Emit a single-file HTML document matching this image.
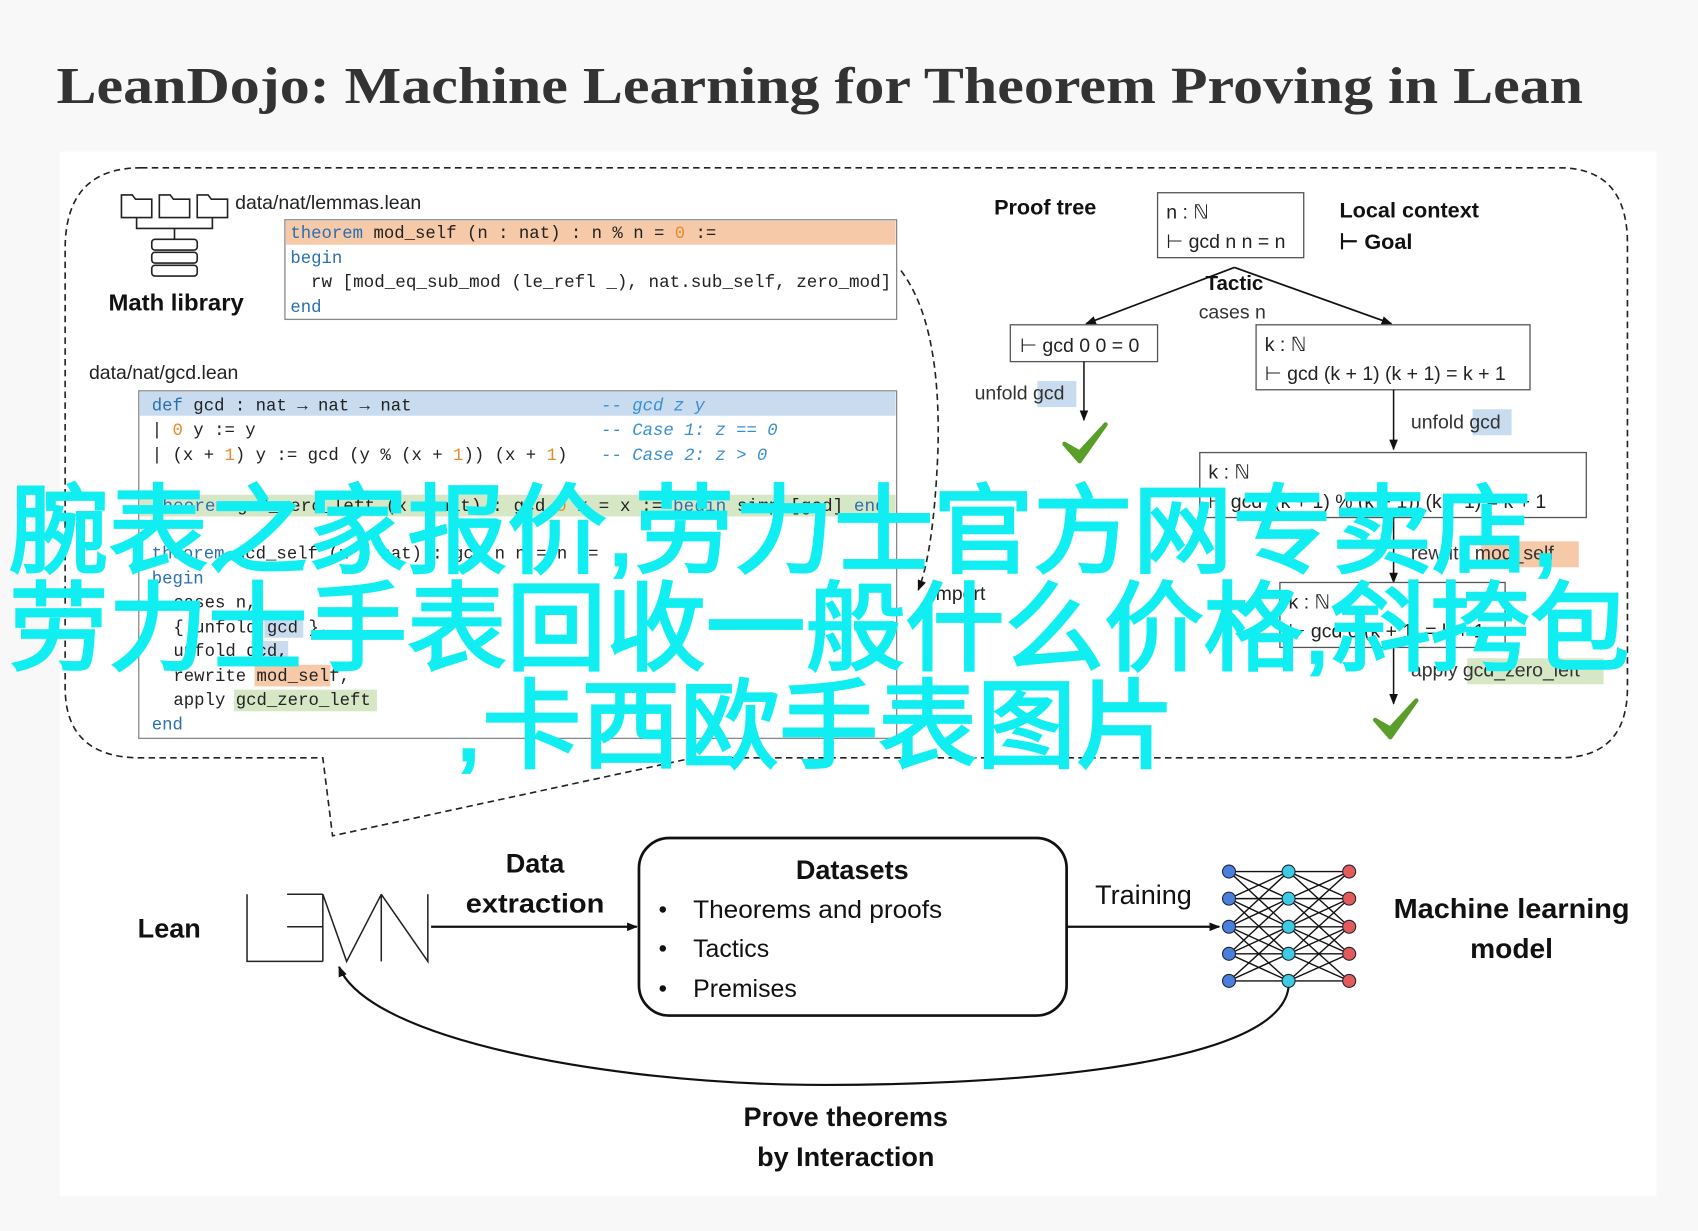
<!DOCTYPE html>
<html><head><meta charset="utf-8"><style>
html,body{margin:0;padding:0;background:#f8f8f8;}
svg{display:block;}
.m{font-family:"Liberation Mono",monospace;font-size:16px;fill:#222;}
.s{font-family:"Liberation Sans",sans-serif;}
.b{font-family:"Liberation Sans",sans-serif;font-weight:bold;fill:#111;}
.kw{fill:#2a6fb0;}
.num{fill:#e88a2a;}
.cm{fill:#3a8fd0;font-style:italic;}
</style></head><body>
<svg width="1698" height="1231" viewBox="0 0 1568 1137" xmlns="http://www.w3.org/2000/svg">
<defs>
<marker id="ar" markerWidth="10" markerHeight="10" refX="9" refY="5" orient="auto" markerUnits="userSpaceOnUse"><path d="M0,1 L10,5 L0,9 z" fill="#111"/></marker>
</defs>
<rect width="1568" height="1137" fill="#f8f8f8"/>
<rect x="55" y="140" width="1475" height="965" fill="#fff"/>
<text x="52" y="95" font-family="'Liberation Serif',serif" font-weight="bold" font-size="48" fill="#333" textLength="1410" lengthAdjust="spacingAndGlyphs">LeanDojo: Machine Learning for Theorem Proving in Lean</text>

<!-- dashed region -->
<path d="M130,155 L1440,155 Q1503,155 1503,225 L1503,635 Q1503,700 1440,700 L640,700 L307,772 L298,700 L130,700 Q60,700 60,635 L60,230 Q60,155 130,155 Z" fill="none" stroke="#222" stroke-width="1.5" stroke-dasharray="6,4"/>
<path d="M832,250 Q870,300 866,420 Q862,510 848,545" fill="none" stroke="#222" stroke-width="1.5" stroke-dasharray="6,4" marker-end="url(#ar)"/>
<text x="860" y="554" class="s" font-size="18" fill="#222">import</text>

<!-- math library icon -->
<g fill="none" stroke="#222" stroke-width="1.5">
<path d="M112,180 h10 l3,4 h15 v17 h-28z"/><path d="M147,180 h10 l3,4 h15 v17 h-28z"/><path d="M182,180 h10 l3,4 h15 v17 h-28z"/>
<path d="M126,201 v10 h70 v-10 M161,211 v10"/>
<rect x="140" y="221" width="42" height="10" rx="3"/><rect x="140" y="233" width="42" height="10" rx="3"/><rect x="140" y="245" width="42" height="10" rx="3"/>
</g>
<text x="100" y="287" class="b" font-size="21" textLength="125" lengthAdjust="spacingAndGlyphs">Math library</text>
<text x="217" y="193" class="s" font-size="18" fill="#222">data/nat/lemmas.lean</text>
<text x="82" y="350" class="s" font-size="18" fill="#222">data/nat/gcd.lean</text>

<!-- lemmas box -->
<rect x="263" y="203" width="565" height="92" fill="#fff" stroke="#888" stroke-width="1.2"/>
<rect x="264" y="204" width="563" height="22" fill="#f6c9a8"/>
<text x="268" y="220" class="m"><tspan class="kw">theorem</tspan> mod_self (n : nat) : n % n = <tspan class="num">0</tspan> :=</text>
<text x="268" y="243" class="m kw">begin</text>
<text x="287" y="265" class="m" textLength="536" lengthAdjust="spacingAndGlyphs">rw [mod_eq_sub_mod (le_refl _), nat.sub_self, zero_mod]</text>
<text x="268" y="288" class="m kw">end</text>

<!-- gcd box -->
<rect x="128" y="361" width="700" height="321" fill="#fff" stroke="#888" stroke-width="1.2"/>
<rect x="129" y="362" width="698" height="22" fill="#c8dbef"/>
<rect x="129" y="457" width="698" height="20" fill="#d6e7c6"/>
<text x="140" y="379" class="m"><tspan class="kw">def</tspan> gcd : nat → nat → nat</text>
<text x="555" y="379" class="m cm">-- gcd z y</text>
<text x="140" y="402" class="m">| <tspan class="num">0</tspan>       y := y</text>
<text x="555" y="402" class="m cm">-- Case 1: z == 0</text>
<text x="140" y="425" class="m">| (x + <tspan class="num">1</tspan>) y := gcd (y % (x + <tspan class="num">1</tspan>)) (x + <tspan class="num">1</tspan>)</text>
<text x="555" y="425" class="m cm">-- Case 2: z &gt; 0</text>
<text x="140" y="472" class="m" textLength="678" lengthAdjust="spacingAndGlyphs"><tspan class="kw">theorem</tspan> gcd_zero_left (x : nat) : gcd <tspan class="num">0</tspan> x = x := <tspan class="kw">begin</tspan> simp [gcd] <tspan class="kw">end</tspan></text>
<text x="140" y="516" class="m"><tspan class="kw">theorem</tspan> gcd_self (n : nat) : gcd n n = n :=</text>
<text x="140" y="539" class="m kw">begin</text>
<text x="160" y="561" class="m">cases n,</text>
<rect x="244" y="569" width="36" height="20" fill="#c8dbef"/>
<text x="160" y="584" class="m">{ unfold gcd },</text>
<rect x="232" y="592" width="34" height="20" fill="#c8dbef"/>
<text x="160" y="606" class="m">unfold gcd,</text>
<rect x="235" y="614" width="70" height="20" fill="#f6c9a8"/>
<text x="160" y="629" class="m">rewrite mod_self,</text>
<rect x="216" y="637" width="132" height="20" fill="#d6e7c6"/>
<text x="160" y="651" class="m">apply gcd_zero_left</text>
<text x="140" y="674" class="m kw">end</text>

<!-- proof tree -->
<text x="918" y="198" class="b" font-size="20">Proof tree</text>
<rect x="1069" y="178" width="135" height="60" fill="#fff" stroke="#555" stroke-width="1.2"/>
<text x="1077" y="202" class="s" font-size="18" fill="#222">n : ℕ</text>
<text x="1077" y="229" class="s" font-size="18" fill="#222">⊢ gcd n n = n</text>
<text x="1237" y="201" class="b" font-size="20">Local context</text>
<text x="1237" y="230" class="b" font-size="20">⊢ Goal</text>
<line x1="1140" y1="247" x2="1003" y2="299" stroke="#111" stroke-width="1.6" marker-end="url(#ar)"/>
<line x1="1140" y1="247" x2="1285" y2="299" stroke="#111" stroke-width="1.6" marker-end="url(#ar)"/>
<text x="1140" y="268" class="b" font-size="19" text-anchor="middle">Tactic</text>
<text x="1138" y="294" class="s" font-size="18" fill="#333" text-anchor="middle">cases n</text>
<rect x="933" y="300" width="136" height="34" fill="#fff" stroke="#555" stroke-width="1.2"/>
<text x="942" y="325" class="s" font-size="18" fill="#222">⊢ gcd 0 0 = 0</text>
<rect x="1160" y="300" width="253" height="60" fill="#fff" stroke="#555" stroke-width="1.2"/>
<text x="1168" y="324" class="s" font-size="18" fill="#222">k : ℕ</text>
<text x="1168" y="351" class="s" font-size="18" fill="#222">⊢ gcd (k + 1) (k + 1) = k + 1</text>
<line x1="1001" y1="334" x2="1001" y2="388" stroke="#111" stroke-width="1.4" marker-end="url(#ar)"/>
<rect x="958" y="352" width="36" height="24" fill="#c8dbef"/>
<text x="900" y="369" class="s" font-size="18" fill="#333">unfold gcd</text>
<path d="M983,410 l14,16 l24,-34 l-24,26z" fill="#5a9e2a" stroke="#5a9e2a" stroke-width="4" stroke-linejoin="round"/>
<line x1="1287" y1="360" x2="1287" y2="415" stroke="#111" stroke-width="1.4" marker-end="url(#ar)"/>
<rect x="1360" y="378" width="36" height="24" fill="#c8dbef"/>
<text x="1303" y="396" class="s" font-size="18" fill="#333">unfold gcd</text>
<rect x="1108" y="418" width="357" height="60" fill="#fff" stroke="#555" stroke-width="1.2"/>
<text x="1116" y="442" class="s" font-size="18" fill="#222">k : ℕ</text>
<text x="1116" y="469" class="s" font-size="18" fill="#222">⊢ gcd ((k + 1) % (k + 1)) (k + 1) = k + 1</text>
<line x1="1287" y1="478" x2="1287" y2="538" stroke="#111" stroke-width="1.4" marker-end="url(#ar)"/>
<rect x="1368" y="500" width="90" height="24" fill="#f6c9a8"/>
<text x="1303" y="517" class="s" font-size="18" fill="#333">rewrite mod_self</text>
<rect x="1182" y="538" width="208" height="60" fill="#fff" stroke="#555" stroke-width="1.2"/>
<text x="1190" y="562" class="s" font-size="18" fill="#222">k : ℕ</text>
<text x="1190" y="589" class="s" font-size="18" fill="#222">⊢ gcd 0 (k + 1) = k + 1</text>
<line x1="1287" y1="598" x2="1287" y2="650" stroke="#111" stroke-width="1.4" marker-end="url(#ar)"/>
<rect x="1355" y="608" width="126" height="24" fill="#d6e7c6"/>
<text x="1303" y="625" class="s" font-size="18" fill="#333">apply gcd_zero_left</text>
<path d="M1270,665 l14,16 l24,-34 l-24,26z" fill="#5a9e2a" stroke="#5a9e2a" stroke-width="4" stroke-linejoin="round"/>

<!-- bottom pipeline -->
<text x="127" y="866" class="b" font-size="25">Lean</text>
<g fill="none" stroke="#222" stroke-width="1.4">
<path d="M228,826 V888 H298 M265,826 H298 M265,856 H298 M298,826 V888"/>
<path d="M298,826 L320,888 L352,826 V888 M352,826 L395,888 V826"/>
</g>
<line x1="398" y1="856" x2="588" y2="856" stroke="#111" stroke-width="2" marker-end="url(#ar)"/>
<text x="494" y="806" class="b" font-size="25" text-anchor="middle">Data</text>
<text x="494" y="843" class="b" font-size="25" text-anchor="middle" textLength="128" lengthAdjust="spacingAndGlyphs">extraction</text>
<rect x="590" y="774" width="395" height="164" rx="28" fill="#fff" stroke="#111" stroke-width="2.5"/>
<text x="787" y="812" class="b" font-size="25" text-anchor="middle">Datasets</text>
<g class="s" font-size="23" fill="#111">
<circle cx="612" cy="840" r="3" fill="#111"/><text x="640" y="848" textLength="230" lengthAdjust="spacingAndGlyphs">Theorems and proofs</text>
<circle cx="612" cy="876" r="3" fill="#111"/><text x="640" y="884">Tactics</text>
<circle cx="612" cy="913" r="3" fill="#111"/><text x="640" y="921">Premises</text>
</g>
<line x1="985" y1="856" x2="1126" y2="856" stroke="#111" stroke-width="2" marker-end="url(#ar)"/>
<text x="1056" y="835" class="s" font-size="25" fill="#111" text-anchor="middle">Training</text>
<g stroke="#111" stroke-width="1.3">
<line x1="1135" y1="805" x2="1190" y2="805"/><line x1="1135" y1="805" x2="1190" y2="830"/><line x1="1135" y1="805" x2="1190" y2="856"/>
<line x1="1135" y1="830" x2="1190" y2="805"/><line x1="1135" y1="830" x2="1190" y2="830"/><line x1="1135" y1="830" x2="1190" y2="856"/><line x1="1135" y1="830" x2="1190" y2="881"/>
<line x1="1135" y1="856" x2="1190" y2="805"/><line x1="1135" y1="856" x2="1190" y2="830"/><line x1="1135" y1="856" x2="1190" y2="856"/><line x1="1135" y1="856" x2="1190" y2="881"/><line x1="1135" y1="856" x2="1190" y2="906"/>
<line x1="1135" y1="881" x2="1190" y2="830"/><line x1="1135" y1="881" x2="1190" y2="856"/><line x1="1135" y1="881" x2="1190" y2="881"/><line x1="1135" y1="881" x2="1190" y2="906"/>
<line x1="1135" y1="906" x2="1190" y2="856"/><line x1="1135" y1="906" x2="1190" y2="881"/><line x1="1135" y1="906" x2="1190" y2="906"/>
<line x1="1190" y1="805" x2="1246" y2="805"/><line x1="1190" y1="805" x2="1246" y2="830"/><line x1="1190" y1="805" x2="1246" y2="856"/>
<line x1="1190" y1="830" x2="1246" y2="805"/><line x1="1190" y1="830" x2="1246" y2="830"/><line x1="1190" y1="830" x2="1246" y2="856"/><line x1="1190" y1="830" x2="1246" y2="881"/>
<line x1="1190" y1="856" x2="1246" y2="805"/><line x1="1190" y1="856" x2="1246" y2="830"/><line x1="1190" y1="856" x2="1246" y2="856"/><line x1="1190" y1="856" x2="1246" y2="881"/><line x1="1190" y1="856" x2="1246" y2="906"/>
<line x1="1190" y1="881" x2="1246" y2="830"/><line x1="1190" y1="881" x2="1246" y2="856"/><line x1="1190" y1="881" x2="1246" y2="881"/><line x1="1190" y1="881" x2="1246" y2="906"/>
<line x1="1190" y1="906" x2="1246" y2="856"/><line x1="1190" y1="906" x2="1246" y2="881"/><line x1="1190" y1="906" x2="1246" y2="906"/>
</g>
<g stroke="#223" stroke-width="1">
<circle cx="1135" cy="805" r="6" fill="#4a80dc"/><circle cx="1135" cy="830" r="6" fill="#4a80dc"/><circle cx="1135" cy="856" r="6" fill="#4a80dc"/><circle cx="1135" cy="881" r="6" fill="#4a80dc"/><circle cx="1135" cy="906" r="6" fill="#4a80dc"/>
<circle cx="1190" cy="805" r="6" fill="#3ccbe2"/><circle cx="1190" cy="830" r="6" fill="#3ccbe2"/><circle cx="1190" cy="856" r="6" fill="#3ccbe2"/><circle cx="1190" cy="881" r="6" fill="#3ccbe2"/><circle cx="1190" cy="906" r="6" fill="#3ccbe2"/>
<circle cx="1246" cy="805" r="6" fill="#e25a5a"/><circle cx="1246" cy="830" r="6" fill="#e25a5a"/><circle cx="1246" cy="856" r="6" fill="#e25a5a"/><circle cx="1246" cy="881" r="6" fill="#e25a5a"/><circle cx="1246" cy="906" r="6" fill="#e25a5a"/>
</g>
<text x="1396" y="848" class="b" font-size="26" text-anchor="middle" textLength="218" lengthAdjust="spacingAndGlyphs">Machine learning</text>
<text x="1396" y="885" class="b" font-size="26" text-anchor="middle">model</text>
<path d="M1190,912 C1180,990 900,1003 745,1002 C560,1000 340,960 313,893" fill="none" stroke="#111" stroke-width="2" marker-end="url(#ar)"/>
<text x="781" y="1040" class="b" font-size="25" text-anchor="middle">Prove theorems</text>
<text x="781" y="1077" class="b" font-size="25" text-anchor="middle">by Interaction</text>

<!-- overlay text -->
<g font-family="'Liberation Sans','Noto Sans CJK SC',sans-serif" font-size="90" fill="#11eef2" stroke="#11eef2" stroke-width="2.5">
<text x="8" y="522" textLength="1432" lengthAdjust="spacingAndGlyphs">腕表之家报价,劳力士官方网专卖店,</text>
<text x="8" y="612" textLength="1497" lengthAdjust="spacingAndGlyphs">劳力士手表回收一般什么价格,斜挎包</text>
<text x="420" y="702" textLength="665" lengthAdjust="spacingAndGlyphs">,卡西欧手表图片</text>
</g>
</svg>
</body></html>
